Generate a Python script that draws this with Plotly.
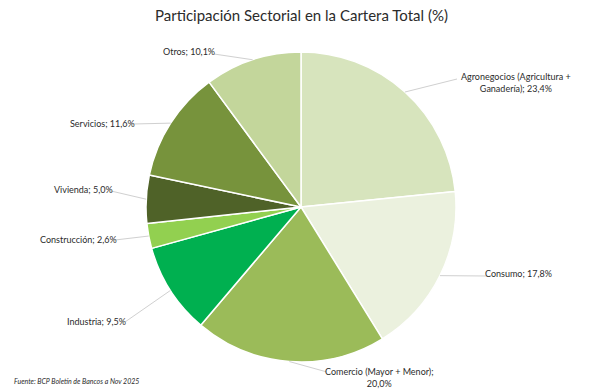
import math
import plotly.graph_objects as go

# ---- data ----
sectors = ["Agronegocios (Agricultura + Ganadería)", "Consumo", "Comercio (Mayor + Menor)",
           "Industria", "Construcción", "Vivienda", "Servicios", "Otros"]
shares = [23.4, 17.8, 20.0, 9.5, 2.6, 5.0, 11.6, 10.1]
label_texts = ["Agronegocios (Agricultura +<br>Ganadería); 23,4%", "Consumo; 17,8%",
               "Comercio (Mayor + Menor);<br>20,0%", "Industria; 9,5%", "Construcción; 2,6%",
               "Vivienda; 5,0%", "Servicios; 11,6%", "Otros; 10,1%"]
colors = ["#d7e4bd", "#ebf1de", "#9bbb59", "#00b050", "#92d050", "#4f6228", "#77933c", "#c3d69b"]

# ---- layout (pixels) ----
W, H = 600, 390
CX, CY, R = 301, 207, 155
# label anchor (text position, px) and leader-line end near label (px)
label_pos = [(516, 82), (518, 273), (379, 377), (96, 321), (78, 239), (83, 189), (102, 123), (189, 52)]
label_anchor = [(457, 79), (487, 276), (327, 372), (125, 322), (115, 240), (111, 191), (133, 124), (214, 54)]

def px(x):
    return x / W

def py(y):
    return 1 - y / H

fig = go.Figure(go.Pie(
    labels=sectors, values=shares, sort=False, direction="clockwise", rotation=0,
    marker=dict(colors=colors, line=dict(color="white", width=1.5)),
    textinfo="none", hoverinfo="label+percent", showlegend=False,
    domain=dict(x=[px(CX - R), px(CX + R)], y=[py(CY + R), py(CY - R)]),
))

total = sum(shares)
cum = 0.0
shapes = []
annotations = []
for i, v in enumerate(shares):
    theta = 2 * math.pi * (cum + v / 2) / total
    cum += v
    ex = CX + R * math.sin(theta)
    ey = CY - R * math.cos(theta)
    ax_, ay_ = label_anchor[i]
    shapes.append(dict(type="line", xref="paper", yref="paper",
                       x0=px(ex), y0=py(ey), x1=px(ax_), y1=py(ay_),
                       line=dict(color="#d0d0d0", width=1)))
    lx, ly = label_pos[i]
    annotations.append(dict(text=label_texts[i], x=px(lx), y=py(ly), xref="paper", yref="paper",
                            xanchor="center", yanchor="middle", showarrow=False,
                            font=dict(family="Lato", size=9, color="#2b2b2b")))

annotations.append(dict(text="Participación Sectorial en la Cartera Total (%)", x=px(301), y=py(15),
                        xref="paper", yref="paper", xanchor="center", yanchor="middle",
                        showarrow=False, font=dict(family="Lato", size=15, color="#2b2b2b")))
annotations.append(dict(text="<i>Fuente: BCP Boletín de Bancos a Nov 2025</i>", x=px(12), y=py(381),
                        xref="paper", yref="paper", xanchor="left", yanchor="middle",
                        showarrow=False, font=dict(family="Lato", size=7, color="#2b2b2b")))

fig.update_layout(width=W, height=H, margin=dict(l=0, r=0, t=0, b=0),
                  paper_bgcolor="white", plot_bgcolor="white",
                  shapes=shapes, annotations=annotations)

fig.write_html("out.html", config={"displayModeBar": False},
               post_script="document.body.style.margin='0';document.body.style.padding='0';")
